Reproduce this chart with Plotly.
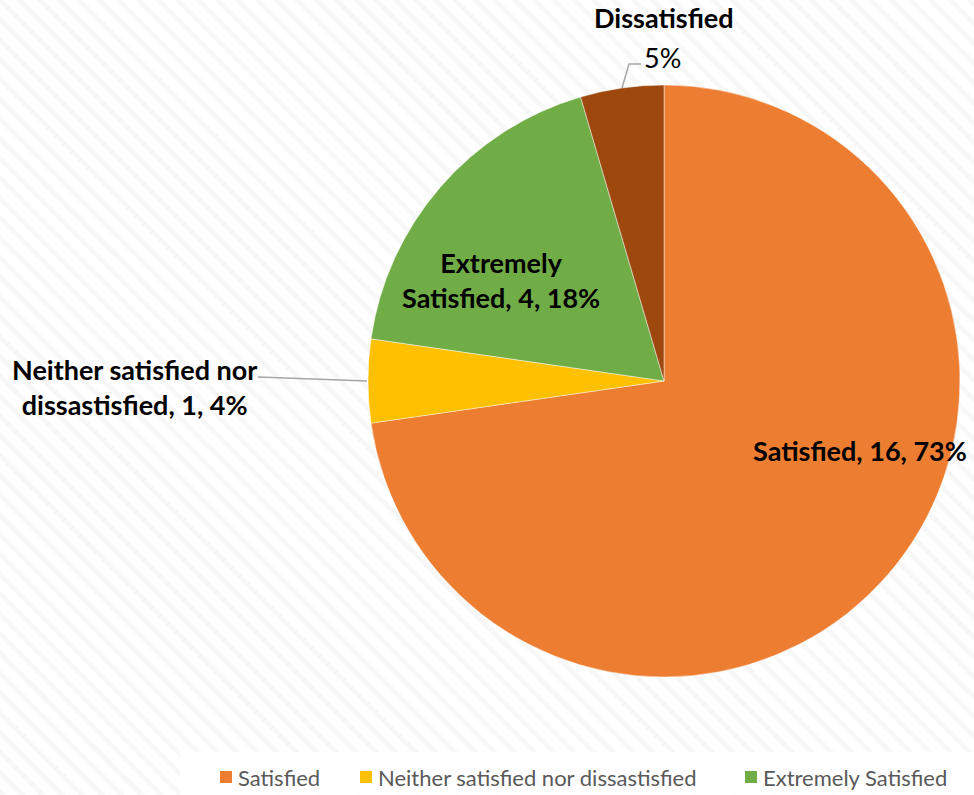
import plotly.graph_objects as go

# Survey satisfaction breakdown
categories = ["Satisfied", "Neither satisfied nor dissatisfied", "Extremely Satisfied", "Extremely Dissatisfied"]
counts = [16, 1, 4, 1]
pct_labels = ["73%", "4%", "18%", "5%"]
colors = ["#ED7D31", "#FFC000", "#70AD47", "#9E480E"]

W, H = 974, 795
CX, CY, R = 664, 381, 296

fig = go.Figure()

# textured backdrop (diagonal stripes)
fig.add_trace(go.Scatter(
    x=[0, W, W, 0, 0], y=[0, 0, H, H, 0], mode="lines", fill="toself",
    line=dict(width=0), fillcolor="#ffffff",
    fillpattern=dict(shape="\\", fgcolor="#efefef", bgcolor="#ffffff", size=14, solidity=0.35),
    hoverinfo="skip", showlegend=False,
))

fig.add_trace(go.Pie(
    labels=categories, values=counts, sort=False, direction="clockwise", rotation=0,
    marker=dict(colors=colors, line=dict(color="rgba(255,255,255,0.45)", width=1)),
    textinfo="none", showlegend=False,
    domain=dict(x=[(CX - R) / W, (CX + R) / W], y=[1 - (CY + R) / H, 1 - (CY - R) / H]),
))

LBL = dict(family="Lato", size=27, color="#000000")
anns = []
shapes = []

# soft shadow ring behind the pie
shapes.append(dict(type="circle", xref="x", yref="y", layer="below",
                   x0=CX - R - 3, x1=CX + R + 4, y0=CY - R - 2, y1=CY + R + 5,
                   fillcolor="rgba(200,200,200,0.45)", line=dict(width=0)))

# data labels
anns.append(dict(x=860, y=450, text=f"<b>{categories[0]}, {counts[0]}, {pct_labels[0]}</b>",
                 font=LBL, showarrow=False, xanchor="center", yanchor="middle"))
anns.append(dict(x=501, y=280, text=f"<b>Extremely<br>Satisfied, {counts[2]}, {pct_labels[2]}</b>",
                 font=LBL, showarrow=False, xanchor="center", yanchor="middle"))
anns.append(dict(x=134, y=387, text=f"<b>Neither satisfied nor<br>dissastisfied, {counts[1]}, {pct_labels[1]}</b>",
                 font=LBL, showarrow=False, xanchor="center", yanchor="middle"))
anns.append(dict(x=664, y=36, text="<b>Extremely<br>Dissatisfied</b>",
                 font=LBL, showarrow=False, xanchor="center", yanchor="bottom"))
anns.append(dict(x=662, y=57, text=pct_labels[3],
                 font=dict(family="Lato", size=27, color="#000000"),
                 showarrow=False, xanchor="center", yanchor="middle"))

# leader lines
shapes.append(dict(type="line", xref="x", yref="y", x0=258, y0=377, x1=367, y1=381,
                   line=dict(color="#a6a6a6", width=1.5)))
shapes.append(dict(type="path", xref="x", yref="y", path="M 622 88 L 629 64 L 641 64",
                   line=dict(color="#a6a6a6", width=1.5)))

# legend strip
shapes.append(dict(type="rect", xref="x", yref="y", x0=180, x1=W, y0=752, y1=H,
                   fillcolor="rgba(255,255,255,0.85)", line=dict(width=0), layer="above"))
leg_x = [220, 360, 745, 990]
leg_names = ["Satisfied", "Neither satisfied nor dissastisfied", "Extremely Satisfied", "Extremely Dissatisfied"]
for lx, name, c in zip(leg_x, leg_names, colors):
    shapes.append(dict(type="rect", xref="x", yref="y", x0=lx, x1=lx + 12, y0=771, y1=783,
                       fillcolor=c, line=dict(width=0), layer="above"))
    anns.append(dict(x=lx + 16, y=777, text=name, showarrow=False, xanchor="left", yanchor="middle",
                     font=dict(family="Lato", size=22, color="#595959")))

fig.update_layout(
    width=W, height=H, margin=dict(l=0, r=0, t=0, b=0),
    paper_bgcolor="#ffffff", plot_bgcolor="#ffffff",
    xaxis=dict(range=[0, W], visible=False, fixedrange=True),
    yaxis=dict(range=[H, 0], visible=False, fixedrange=True),
    annotations=anns, shapes=shapes, showlegend=False,
)

fig.write_html("out.html")
